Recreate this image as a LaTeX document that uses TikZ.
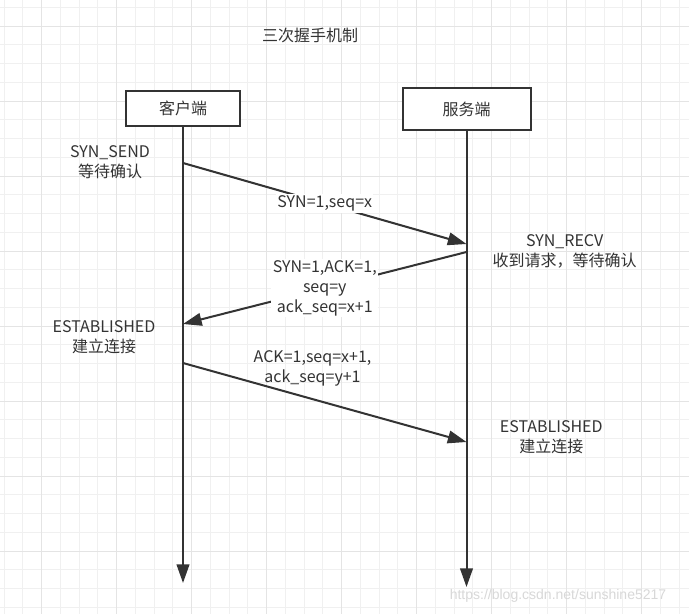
\documentclass[tikz,border=0pt]{standalone}
\usepackage{fontspec}
\setmainfont{Noto Sans CJK SC}
\newfontfamily\wmfont{Liberation Sans}
\usepackage{xcolor}
\usetikzlibrary{arrows.meta}
\definecolor{ink}{HTML}{333333}
\definecolor{minorgrid}{HTML}{F0F0F0}
\definecolor{majorgrid}{HTML}{E4E4E4}
\definecolor{mark}{HTML}{D8D8D8}
\tikzset{
  minorline/.style={draw=minorgrid, line width=0.75pt},
  majorline/.style={draw=majorgrid, line width=0.75pt},
  msg/.style={draw=ink, line width=1.5pt, -{Triangle[length=14pt,width=9.5pt]}},
  actor/.style={draw=ink, line width=1.5pt, fill=white, text=ink, font=\fontsize{12}{15}\selectfont},
  lbl/.style={text=ink, font=\fontsize{12}{15}\selectfont, align=center},
  msglbl/.style={lbl, fill=white, inner sep=1pt}
}
\begin{document}
\begin{tikzpicture}[x=0.75pt, y=-0.75pt]
  \useasboundingbox (0,0) rectangle (689,614);
  \fill[white] (0,0) rectangle (689,614);

  % grid
  \foreach \gx in {0,...,36} \draw[minorline] ({4.2+18.75*\gx},0) -- ({4.2+18.75*\gx},614);
  \foreach \gy in {0,...,32} \draw[minorline] (0,{7.3+18.75*\gy}) -- (689,{7.3+18.75*\gy});
  \foreach \gx in {0,...,8} \draw[majorline] ({41.7+75*\gx},0) -- ({41.7+75*\gx},614);
  \foreach \gy in {0,...,7} \draw[majorline] (0,{26+75*\gy}) -- (689,{26+75*\gy});

  \node[lbl] (title) at (310,35) {三次握手机制};

  \node[actor, minimum width=85.5pt, minimum height=26.25pt] (client) at (183,108) {客户端};
  \node[actor, minimum width=96pt, minimum height=31.5pt] (server) at (466.5,109) {服务端};

  \coordinate (clientEnd) at (183,583);
  \coordinate (serverEnd) at (466.5,587);
  \draw[msg] (client.south) -- (clientEnd);
  \draw[msg] (server.south) -- (serverEnd);

  % points on the lifelines
  \coordinate (c1) at (183,163);
  \coordinate (s1) at (466.5,244);
  \coordinate (s2) at (466.5,252);
  \coordinate (c2) at (183,324);
  \coordinate (c3) at (183,363);
  \coordinate (s3) at (466.5,442);

  \draw[msg] (c1) -- (s1) node[msglbl, midway] (syn) {SYN=1,seq=x};
  \draw[msg] (s2) -- (c2) node[msglbl, midway] (synack) {SYN=1,ACK=1,\\seq=y\\ack\_seq=x+1};
  \draw[msg] (c3) -- (s3);
  \node[lbl] (ack) at (312.5,368) {ACK=1,seq=x+1,\\ack\_seq=y+1};

  \node[lbl] (synsend) at (110,162.5) {SYN\_SEND\\等待确认};
  \node[lbl] (synrecv) at (564.7,251.5) {SYN\_RECV\\收到请求，等待确认};
  \node[lbl] (estc) at (104,337.5) {ESTABLISHED\\建立连接};
  \node[lbl] (ests) at (551.3,437) {ESTABLISHED\\建立连接};

  \node[text=mark, font=\wmfont\fontsize{10.5}{12}\selectfont] (wm) at (558,596) {https://blog.csdn.net/sunshine5217};
\end{tikzpicture}
\end{document}
